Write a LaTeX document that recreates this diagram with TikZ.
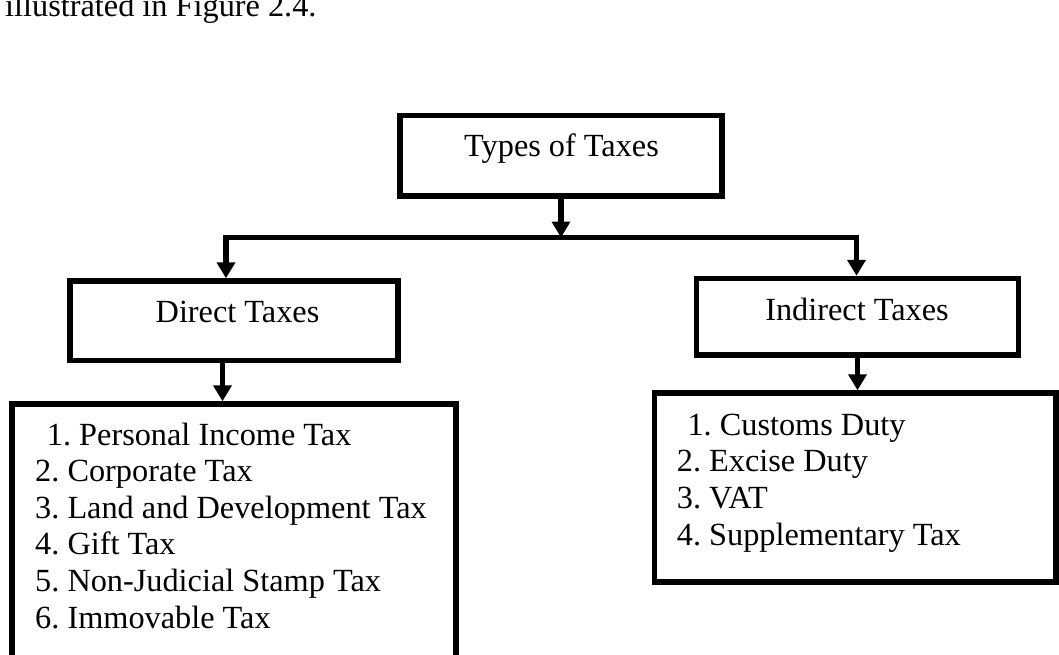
\documentclass[tikz,border=0pt]{standalone}
\usepackage{fontspec}
\setmainfont{Liberation Serif}
\usetikzlibrary{arrows.meta}
\frenchspacing
\begin{document}
\begin{tikzpicture}[x=1pt,y=-1pt,
  every node/.style={font=\fontsize{32.3}{36.7}\selectfont\frenchspacing, inner sep=0pt},
  box/.style={draw, line width=5.5pt, rectangle},
  item/.style={anchor=base west},
  conn/.style={line width=5.5pt},
  tip/.style={-{Triangle[width=18pt,length=16pt]}}]
\useasboundingbox (0,0) rectangle (1059,655);
\clip (0,0) rectangle (1059,655);
% top text
\node[anchor=base west] (intro) at (5,16.7) {illustrated in Figure 2.4.};
% header boxes
\node[box, minimum width=322pt, minimum height=80.5pt] (types) at (561,155.75) {};
\node[anchor=base] (typest) at (561.5,157) {Types of Taxes};
\node[box, minimum width=328pt, minimum height=79.5pt] (direct) at (234,320.75) {};
\node[anchor=base] (directt) at (237.5,322.5) {Direct Taxes};
\node[box, minimum width=322pt, minimum height=76.5pt] (indirect) at (857.5,316.75) {};
\node[anchor=base] (indirectt) at (857,320) {Indirect Taxes};
% list boxes
\node[box, anchor=north west, minimum width=444pt, minimum height=320pt] (dlist) at (9.25,401.25) {};
\node[box, anchor=north west, minimum width=401.5pt, minimum height=189pt] (ilist) at (651.75,390.25) {};
% direct items
\node[item] (d1) at (46.7,445) {1. Personal Income Tax};
\node[item] (d2) at (35,481.6) {2. Corporate Tax};
\node[item] (d3) at (35,518.2) {3. Land and Development Tax};
\node[item] (d4) at (35,554.8) {4. Gift Tax};
\node[item] (d5) at (35,591.4) {5. Non-Judicial Stamp Tax};
\node[item] (d6) at (35,628) {6. Immovable Tax};
% indirect items
\node[item] (i1) at (687.3,435) {1. Customs Duty};
\node[item] (i2) at (676.7,471.9) {2. Excise Duty};
\node[item] (i3) at (676.7,508.8) {3. VAT};
\node[item] (i4) at (676.7,545.7) {4. Supplementary Tax};
% connectors
\coordinate (jl) at (226,237.5);
\coordinate (jr) at (856.5,237.5);
\draw[conn, {Triangle[width=18pt,length=16pt]}-{Triangle[width=18pt,length=16pt]}]
  (jl |- direct.north) -- (jl) -- (jr) -- (jr |- indirect.north);
\draw[conn, tip] (types.south) -- (types.south |- jl);
\draw[conn, tip] ([xshift=-11.5pt]direct.south) -- ([xshift=-11.5pt]direct.south |- dlist.north);
\draw[conn, tip] (indirect.south) -- (indirect.south |- ilist.north);
\end{tikzpicture}
\end{document}
